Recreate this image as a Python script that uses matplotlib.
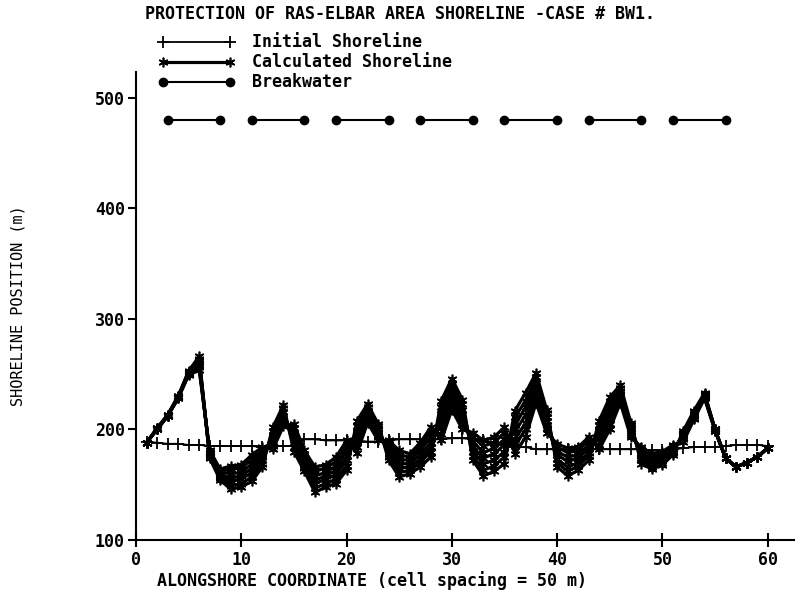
import matplotlib
matplotlib.use('Agg')
import matplotlib.pyplot as plt
import numpy as np

plt.rcParams['font.family'] = ['DejaVu Sans Mono']
plt.rcParams['font.weight'] = 'bold'

cells = np.arange(1, 61)

initial = [189, 188, 187, 187, 186, 186, 185, 185, 185, 185,
           185, 184, 185, 185, 185, 191, 191, 190, 190, 190,
           190, 189, 189, 190, 191, 191, 191, 191, 191, 192,
           192, 191, 190, 188, 186, 184, 184, 182, 182, 182,
           182, 182, 182, 182, 182, 182, 182, 182, 181, 181,
           182, 183, 184, 184, 184, 185, 186, 186, 186, 185]

# calculated shoreline, one list per printed time step
calc1 = [188, 200, 212, 228, 249, 254, 181, 164, 167, 168,
         177, 184, 182, 203, 205, 181, 166, 168, 175, 190,
         179, 206, 190, 190, 181, 178, 188, 202, 190, 218,
         200, 197, 190, 193, 202, 178, 193, 224, 197, 187,
         183, 184, 193, 182, 200, 224, 193, 184, 178, 180,
         186, 189, 209, 228, 199, 174, 166, 170, 175, 183]
calc2 = [188, 200, 212, 228, 250, 256, 180, 162, 164, 165,
         173, 181, 185, 206, 201, 178, 162, 165, 171, 185,
         184, 209, 193, 187, 177, 175, 184, 198, 196, 223,
         205, 193, 185, 188, 197, 185, 200, 229, 201, 184,
         179, 181, 190, 186, 205, 227, 195, 182, 176, 178,
         185, 191, 210, 229, 199, 174, 166, 170, 175, 183]
calc3 = [188, 200, 212, 229, 250, 258, 179, 161, 160, 161,
         169, 178, 189, 209, 197, 175, 158, 161, 167, 181,
         189, 212, 195, 184, 173, 172, 181, 193, 202, 227,
         209, 189, 179, 183, 191, 191, 206, 233, 204, 180,
         175, 177, 186, 191, 210, 229, 197, 179, 173, 176,
         183, 192, 212, 230, 199, 174, 166, 170, 175, 183]
calc4 = [188, 200, 212, 229, 251, 260, 177, 159, 156, 158,
         165, 175, 192, 212, 192, 171, 154, 158, 163, 176,
         194, 214, 198, 181, 169, 169, 177, 188, 208, 232,
         214, 184, 174, 178, 186, 198, 213, 238, 208, 177,
         171, 174, 183, 195, 215, 232, 200, 177, 171, 174,
         182, 194, 213, 231, 200, 174, 166, 170, 175, 183]
calc5 = [188, 201, 213, 229, 252, 262, 176, 157, 153, 155,
         161, 172, 195, 216, 188, 168, 151, 155, 159, 172,
         198, 217, 200, 178, 165, 166, 173, 184, 214, 237,
         218, 180, 169, 172, 180, 204, 220, 242, 211, 173,
         166, 170, 179, 199, 219, 235, 202, 174, 169, 172,
         180, 196, 214, 231, 200, 174, 166, 170, 175, 183]
calc6 = [188, 201, 213, 230, 252, 264, 175, 156, 149, 151,
         157, 169, 199, 219, 184, 165, 147, 151, 155, 167,
         203, 220, 203, 175, 161, 163, 170, 180, 220, 241,
         223, 176, 163, 167, 175, 211, 226, 247, 215, 170,
         162, 167, 176, 204, 224, 237, 204, 172, 166, 170,
         179, 197, 216, 232, 200, 174, 166, 170, 175, 183]
calc7 = [188, 201, 213, 230, 253, 266, 174, 154, 146, 148,
         153, 166, 202, 222, 180, 162, 143, 148, 151, 163,
         208, 223, 205, 172, 157, 160, 166, 175, 226, 246,
         227, 172, 158, 162, 169, 217, 233, 251, 218, 166,
         158, 163, 172, 208, 229, 240, 206, 169, 164, 168,
         177, 199, 217, 233, 200, 174, 166, 170, 175, 183]
calc_steps = [calc1, calc2, calc3, calc4, calc5, calc6, calc7]

bw_start = [3, 11, 19, 27, 35, 43, 51]
bw_end = [8, 16, 24, 32, 40, 48, 56]
bw_y = 480

fig = plt.figure(figsize=(8, 5.97), dpi=100)
ax = fig.add_axes([0.17, 0.0955, 0.8225, 0.7835])

h_init, = ax.plot(cells, initial, color='black', lw=1.3, marker='+',
                  ms=8, mew=1.3, label='Initial Shoreline', zorder=3)
h_calc = None
for s in calc_steps:
    ln, = ax.plot(cells, s, color='black', lw=2.3, marker=(6, 2, 0),
                  ms=7, mew=1.2, zorder=2)
    if h_calc is None:
        h_calc = ln
h_calc.set_label('Calculated Shoreline')
h_bw = None
for a, b in zip(bw_start, bw_end):
    ln, = ax.plot([a, b], [bw_y, bw_y], color='black', lw=1.5, marker='o',
                  ms=6)
    if h_bw is None:
        h_bw = ln
h_bw.set_label('Breakwater')

ax.set_xlim(0, 62.5)
ax.set_ylim(100, 523)
ax.set_xticks([0, 10, 20, 30, 40, 50, 60])
ax.set_yticks([100, 200, 300, 400, 500])
ax.spines['top'].set_visible(False)
ax.spines['right'].set_visible(False)
ax.spines['left'].set_linewidth(1.5)
ax.spines['bottom'].set_linewidth(1.5)
ax.tick_params(axis='x', direction='inout', length=10, width=1.5,
               labelsize=12, pad=3)
ax.tick_params(axis='y', direction='out', length=6, width=1.5,
               labelsize=12, pad=2)

ax.set_xlabel('ALONGSHORE COORDINATE (cell spacing = 50 m)', fontsize=12,
              fontweight='bold', va='center')
ax.xaxis.set_label_coords(0.359, -0.087)
ax.set_ylabel('SHORELINE POSITION (m)', fontsize=11, labelpad=50)

fig.text(0.5, 0.977, 'PROTECTION OF RAS-ELBAR AREA SHORELINE -CASE # BW1.',
         ha='center', va='center', fontsize=12)

fig.legend(handles=[h_init, h_calc, h_bw], loc='upper left',
           bbox_to_anchor=(0.198, 0.944), frameon=False, fontsize=12,
           numpoints=2, handlelength=4.6, handletextpad=1.0,
           labelspacing=0.12, borderaxespad=0, borderpad=0)

fig.savefig('out.png', dpi=100)
